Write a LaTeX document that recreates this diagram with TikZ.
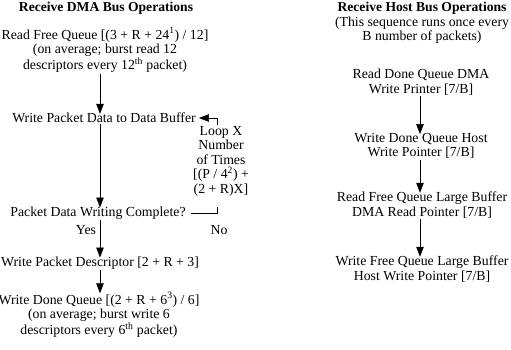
\documentclass[tikz,border=0pt]{standalone}
\usepackage{fontspec}
\setmainfont{Liberation Serif}
\usetikzlibrary{arrows.meta}

\begin{document}
\begin{tikzpicture}[x=1pt, y=-1pt, >={Triangle[width=7.5pt,length=10pt]},
		font=\fontsize{13.8}{14.5}\selectfont,
		every node/.style={inner sep=1pt, align=center},
		heading/.style={font=\fontsize{13.6}{14.5}\selectfont\bfseries},
		flow/.style={->, line width=0.6pt, shorten >=-2pt}]
		\useasboundingbox (0,0) rectangle (511,349);
		% receive DMA side
		\node[heading] (titleL) at (106,8) {Receive DMA Bus Operations};
		\node (readfree) at (105,50) {Read Free Queue [(3 + R + 24\textsuperscript{1}) / 12]\\(on average; burst read 12\\descriptors every 12\textsuperscript{th} packet)};
		\node (writedata) at (104,118) {Write Packet Data to Data Buffer};
		\node (loop) at (221,161) {Loop X\\Number\\of Times\\{[(P / 4\textsuperscript{2}) +}\\(2 + R)X]};
		\node (complete) at (98,213) {Packet Data Writing Complete?};
		\node (yes) at (86,230) {Yes};
		\node (no) at (219,230) {No};
		\node (descr) at (100,263) {Write Packet Descriptor [2 + R + 3]};
		\node (done) at (99,315) {Write Done Queue [(2 + R + 6\textsuperscript{3}) / 6]\\(on average; burst write 6\\descriptors every 6\textsuperscript{th} packet)};
		\coordinate (colL) at (100,0);
		\coordinate (nostub) at (217,207);
		\draw[flow] (readfree.south -| colL) -- (writedata.north -| colL);
		\draw[flow] (writedata.south -| colL) -- (complete.north -| colL);
		\draw[flow] (complete.south -| colL) -- (descr.north -| colL);
		\draw[flow] (descr.south -| colL) -- (done.north -| colL);
		\draw[flow, shorten >=2pt] (loop.north -| nostub) |- (writedata.east);
		\draw[line width=0.6pt] ([xshift=4pt]complete.east) -| (nostub);
		% receive host side
		\node[heading] (titleR) at (422,8) {Receive Host Bus Operations};
		\node (note) at (422,30) {(This sequence runs once every\\B number of packets)};
		\node (rddone) at (421,82) {Read Done Queue DMA\\Write Printer [7/B]};
		\node (wrdone) at (421,146) {Write Done Queue Host\\Write Pointer [7/B]};
		\node (rdfree) at (422,205) {Read Free Queue Large Buffer\\DMA Read Pointer [7/B]};
		\node (wrfree) at (422,269) {Write Free Queue Large Buffer\\Host Write Pointer [7/B]};
		\coordinate (colR) at (420,0);
		\draw[flow] (rddone.south -| colR) -- (wrdone.north -| colR);
		\draw[flow] (wrdone.south -| colR) -- (rdfree.north -| colR);
		\draw[flow] (rdfree.south -| colR) -- (wrfree.north -| colR);
	\end{tikzpicture}
\end{document}
